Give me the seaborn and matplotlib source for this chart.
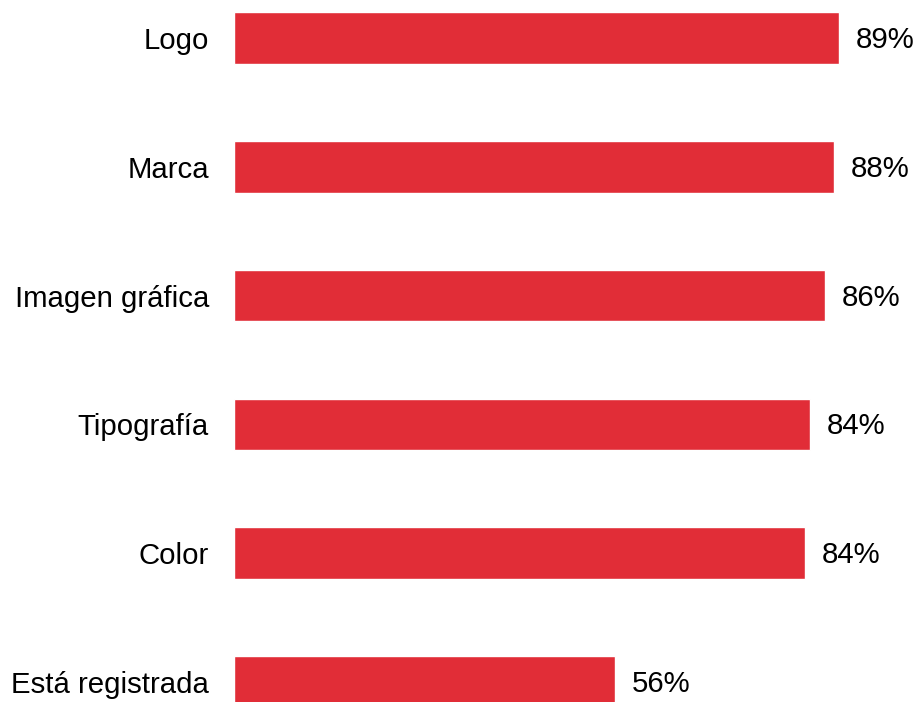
import matplotlib
matplotlib.use("Agg")
import matplotlib.pyplot as plt
import seaborn as sns
import pandas as pd

categories = ["Logo", "Marca", "Imagen gráfica", "Tipografía", "Color", "Está registrada"]
values = [89.0, 88.2, 86.9, 84.7, 84.0, 56.0]
value_labels = ["89%", "88%", "86%", "84%", "84%", "56%"]

df = pd.DataFrame({"cat": categories, "val": values})

sns.set_theme(style="white")
plt.rcParams["font.family"] = ["Liberation Sans", "DejaVu Sans"]

fig = plt.figure(figsize=(9.16, 7.02), dpi=100)
ax = fig.add_axes([234 / 916, 0, 680 / 916, 1])

sns.barplot(data=df, x="val", y="cat", orient="h", color="#E12D37",
            width=0.4, saturation=1, ax=ax)

ax.set_xlim(0, 100)
ax.set_ylim(5 + 20 / 128.8, -38 / 128.8)

for i, (v, lab) in enumerate(zip(values, value_labels)):
    ax.annotate(lab, xy=(v, i), xytext=(12, -1.5), textcoords="offset points",
                va="center", ha="left", fontsize=21.2, color="black")

ax.set_xlabel("")
ax.set_ylabel("")
ax.set_xticks([])
ax.tick_params(axis="y", length=0, pad=18, labelsize=21.2, labelcolor="black")
for lbl in ax.get_yticklabels():
    lbl.set_y(lbl.get_position()[1])
for s in ax.spines.values():
    s.set_visible(False)

fig.savefig("out.png", dpi=100)
